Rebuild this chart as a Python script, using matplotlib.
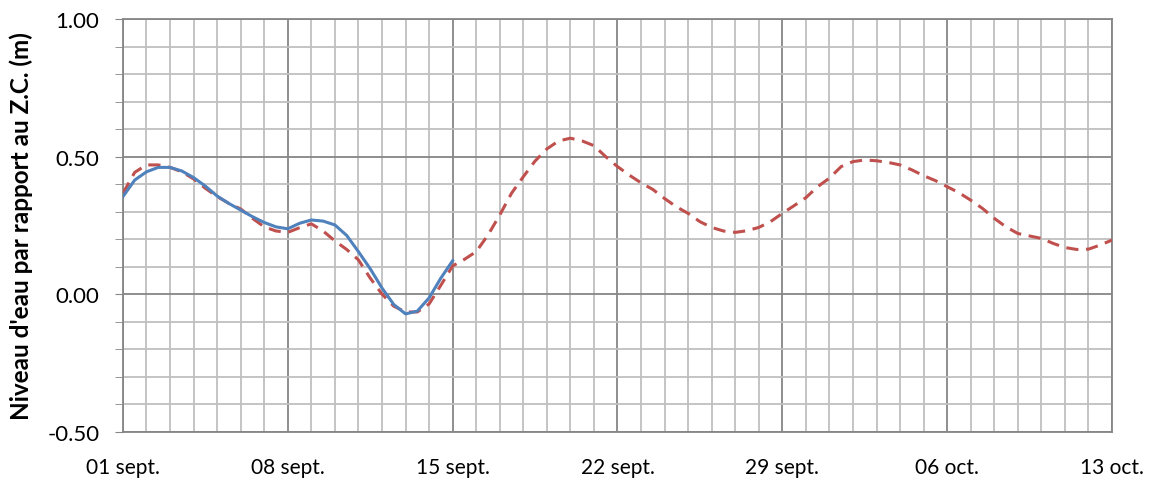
import matplotlib
matplotlib.use('Agg')
import matplotlib.pyplot as plt
from matplotlib.ticker import MultipleLocator, FormatStrFormatter

plt.rcParams['font.family'] = ['Lato', 'DejaVu Sans']

# jours depuis le 01 sept. (pas d'une demi-journee)
jours_prev = [i / 2 for i in range(0, 85)]
prevision = [0.367, 0.443, 0.470, 0.470, 0.461, 0.445, 0.419, 0.385, 0.355, 0.330,
             0.310, 0.276, 0.245, 0.230, 0.225, 0.242, 0.256, 0.230, 0.194, 0.163,
             0.125, 0.059, 0.001, -0.043, -0.064, -0.064, -0.035, 0.033, 0.103, 0.127,
             0.155, 0.215, 0.288, 0.367, 0.427, 0.484, 0.528, 0.557, 0.567, 0.557,
             0.540, 0.500, 0.464, 0.433, 0.405, 0.381, 0.348, 0.318, 0.294, 0.264,
             0.243, 0.230, 0.225, 0.231, 0.243, 0.264, 0.294, 0.322, 0.351, 0.391,
             0.422, 0.464, 0.482, 0.488, 0.485, 0.479, 0.470, 0.452, 0.431, 0.413,
             0.391, 0.369, 0.342, 0.312, 0.276, 0.245, 0.221, 0.212, 0.203, 0.185,
             0.170, 0.163, 0.164, 0.179, 0.197]

jours_obs = [i / 2 for i in range(0, 29)]
observe = [0.355, 0.415, 0.445, 0.461, 0.461, 0.448, 0.424, 0.393, 0.357, 0.330,
           0.306, 0.282, 0.261, 0.245, 0.238, 0.258, 0.270, 0.266, 0.252, 0.214,
           0.155, 0.093, 0.023, -0.037, -0.071, -0.061, -0.013, 0.059, 0.122]

tick_pos = [0, 7, 14, 21, 28, 35, 42]
tick_labels = ['01 sept.', '08 sept.', '15 sept.', '22 sept.', '29 sept.', '06 oct.', '13 oct.']

fig = plt.figure(figsize=(11.49, 4.85), dpi=100)
ax = fig.add_axes([0.107, 0.1072, 0.8608, 0.8516])

ax.plot(jours_prev, prevision, color='#C0504D', lw=2.2, dashes=(4, 2.5), zorder=3)
ax.plot(jours_obs, observe, color='#4F81BD', lw=2.2, zorder=4)

ax.set_xlim(0, 42)
ax.set_ylim(-0.5, 1.0)
ax.set_xticks(tick_pos)
ax.set_xticklabels(tick_labels)
ax.xaxis.set_minor_locator(MultipleLocator(1))
ax.yaxis.set_major_locator(MultipleLocator(0.5))
ax.yaxis.set_minor_locator(MultipleLocator(0.1))
ax.yaxis.set_major_formatter(FormatStrFormatter('%.2f'))

ax.grid(which='major', color='#868686', lw=1.3)
ax.grid(which='minor', color='#BFBFBF', lw=1.3)
ax.set_axisbelow(True)

for s in ax.spines.values():
    s.set_color('#868686')
    s.set_linewidth(1.3)

ax.tick_params(which='both', direction='out', color='#868686', labelsize=16)
ax.tick_params(which='major', length=6, pad=11)
ax.tick_params(which='minor', length=6)
ax.tick_params(axis='x', which='both', length=0, pad=18, labelsize=15)

ax.set_ylabel("Niveau d'eau par rapport au Z.C. (m)", fontsize=17.5, fontweight='bold', labelpad=10)

fig.savefig('out.png', dpi=100)
